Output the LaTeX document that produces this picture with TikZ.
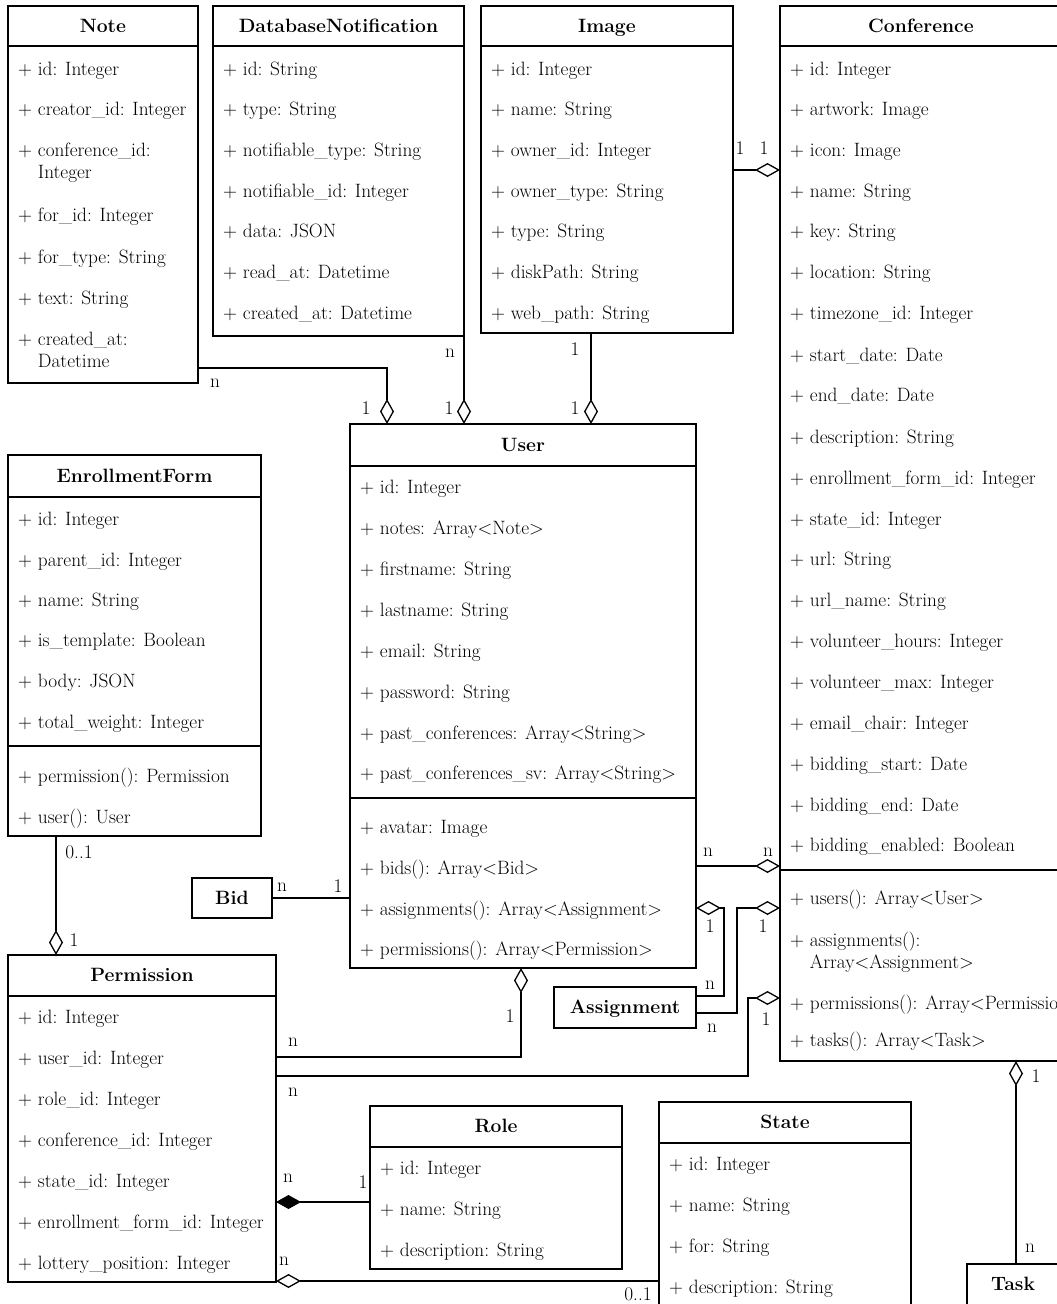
\documentclass[tikz,border=0pt]{standalone}
\usetikzlibrary{arrows.meta}

\newcommand\umlfont{\fontsize{19.3}{22}\selectfont}

\tikzset{
  box/.style={draw, line width=1.3pt, rectangle, inner sep=0pt, outer sep=0pt, anchor=north west},
  attr/.style={anchor=west, inner sep=0pt, text height=12pt, text depth=0pt, font=\umlfont},
  ttl/.style={inner sep=0pt, text height=12.9pt, text depth=0pt, font=\umlfont\bfseries},
  lbl/.style={inner sep=0pt, font=\umlfont},
  rule/.style={line width=1.3pt},
  link/.style={line width=1.3pt},
  agg/.style={line width=1.3pt, -{Diamond[open, length=25pt, width=14pt]}},
  comp/.style={line width=1.3pt, -{Diamond[length=25pt, width=14pt]}},
}

\newcommand\sepline[2]{\draw[rule] (#1.west |- 0,#2) -- (#1.east |- 0,#2);}

\begin{document}
\begin{tikzpicture}[x=1pt, y=-1pt]
\fill[white] (0,0) rectangle (1057,1304);
\useasboundingbox (0,0) rectangle (1057,1304);
\clip (0,0) rectangle (1057,1304);

% ---------- class boxes ----------
\node[box, minimum width=190, minimum height=377] (Note) at (8,6) {};
\node[box, minimum width=251, minimum height=330] (DN) at (213,6) {};
\node[box, minimum width=252, minimum height=327] (Image) at (481,6) {};
\node[box, minimum width=282, minimum height=1055] (Conference) at (780,6) {};
\node[box, minimum width=346, minimum height=544] (User) at (350,424) {};
\node[box, minimum width=253, minimum height=381] (EF) at (8,455) {};
\node[box, minimum width=80, minimum height=40] (Bid) at (192,878) {};
\node[box, minimum width=268, minimum height=327] (Permission) at (8,955) {};
\node[box, minimum width=142, minimum height=41] (Assignment) at (554,987) {};
\node[box, minimum width=252, minimum height=163] (Role) at (370,1106) {};
\node[box, minimum width=252, minimum height=230] (State) at (659,1102) {};
\node[box, minimum width=92, minimum height=60] (Task) at (967,1264) {};

% ---------- compartment rules ----------
\sepline{Note}{46}
\sepline{DN}{46}
\sepline{Image}{46}
\sepline{Conference}{46}
\sepline{Conference}{870}
\sepline{User}{466}
\sepline{User}{798}
\sepline{EF}{497}
\sepline{EF}{746}
\sepline{Permission}{996}
\sepline{Role}{1147}
\sepline{State}{1143}

% ---------- titles ----------
\node[ttl] (Note-t) at (Note.north |- 0,26) {Note};
\node[ttl] (DN-t) at (DN.north |- 0,26) {DatabaseNotification};
\node[ttl] (Image-t) at (Image.north |- 0,26) {Image};
\node[ttl] (Conference-t) at (Conference.north |- 0,26) {Conference};
\node[ttl] (User-t) at (User.north |- 0,445) {User};
\node[ttl] (EF-t) at (EF.north |- 0,476) {EnrollmentForm};
\node[ttl] (Bid-t) at (Bid.center) {Bid};
\node[ttl] (Permission-t) at (Permission.north |- 0,975) {Permission};
\node[ttl] (Assignment-t) at (Assignment.center) {Assignment};
\node[ttl] (Role-t) at (Role.north |- 0,1126) {Role};
\node[ttl] (State-t) at (State.north |- 0,1122) {State};
\node[ttl] (Task-t) at (Task.north |- 0,1284) {Task};

% ---------- members ----------
\foreach \y/\t [count=\i] in {
  69/+ id: Integer, 109/+ creator\_id: Integer, 150/+ conference\_id:,
  172/\phantom{+ }Integer, 215/+ for\_id: Integer, 257/+ for\_type: String,
  298/+ text: String, 339/+ created\_at:, 361/\phantom{+ }Datetime}
  \node[attr] (Note-\i) at (18,\y) {\t};

\foreach \y/\t [count=\i] in {
  69/+ id: String, 109/+ type: String, 150/+ notifiable\_type: String,
  191/+ notifiable\_id: Integer, 231/+ data: JSON, 272/+ read\_at: Datetime,
  313/+ created\_at: Datetime}
  \node[attr] (DN-\i) at (223,\y) {\t};

\foreach \y/\t [count=\i] in {
  69/+ id: Integer, 109/+ name: String, 150/+ owner\_id: Integer,
  191/+ owner\_type: String, 231/+ type: String, 272/+ diskPath: String,
  313/+ web\_path: String}
  \node[attr] (Image-\i) at (491,\y) {\t};

\foreach \y/\t [count=\i] in {
  69/+ id: Integer, 109/+ artwork: Image, 150/+ icon: Image, 191/+ name: String,
  231/+ key: String, 272/+ location: String, 313/+ timezone\_id: Integer,
  355/+ start\_date: Date, 395/+ end\_date: Date, 437/+ description: String,
  478/+ enrollment\_form\_id: Integer, 519/+ state\_id: Integer, 559/+ url: String,
  600/+ url\_name: String, 641/+ volunteer\_hours: Integer,
  682/+ volunteer\_max: Integer, 723/+ email\_chair: Integer,
  764/+ bidding\_start: Date, 805/+ bidding\_end: Date,
  845/+ bidding\_enabled: Boolean,
  898/+ users(): Array<User>, 940/+ assignments():,
  962/\phantom{+ }Array<Assignment>, 1003/+ permissions(): Array<Permission>,
  1040/+ tasks(): Array<Task>}
  \node[attr] (Conference-\i) at (790,\y) {\t};

\foreach \y/\t [count=\i] in {
  487/+ id: Integer, 528/+ notes: Array<Note>, 569/+ firstname: String,
  610/+ lastname: String, 651/+ email: String, 692/+ password: String,
  733/+ past\_conferences: Array<String>, 773/+ past\_conferences\_sv: Array<String>,
  827/+ avatar: Image, 868/+ bids(): Array<Bid>,
  909/+ assignments(): Array<Assignment>, 949/+ permissions(): Array<Permission>}
  \node[attr] (User-\i) at (360,\y) {\t};

\foreach \y/\t [count=\i] in {
  519/+ id: Integer, 560/+ parent\_id: Integer, 600/+ name: String,
  640/+ is\_template: Boolean, 681/+ body: JSON, 722/+ total\_weight: Integer,
  776/+ permission(): Permission, 817/+ user(): User}
  \node[attr] (EF-\i) at (18,\y) {\t};

\foreach \y/\t [count=\i] in {
  1017/+ id: Integer, 1058/+ user\_id: Integer, 1099/+ role\_id: Integer,
  1140/+ conference\_id: Integer, 1181/+ state\_id: Integer,
  1222/+ enrollment\_form\_id: Integer, 1263/+ lottery\_position: Integer}
  \node[attr] (Permission-\i) at (18,\y) {\t};

\foreach \y/\t [count=\i] in {
  1168/+ id: Integer, 1209/+ name: String, 1250/+ description: String}
  \node[attr] (Role-\i) at (380,\y) {\t};

\foreach \y/\t [count=\i] in {
  1164/+ id: Integer, 1205/+ name: String, 1246/+ for: String,
  1287/+ description: String}
  \node[attr] (State-\i) at (669,\y) {\t};

% ---------- associations ----------
% Note -- User
\draw[agg] (Note.east |- 0,368) -| (User.north -| 387,0);
\node[lbl] (l1a) at (215,383) {n};
\node[lbl] (l1b) at (366,408) {1};
% DatabaseNotification -- User
\draw[agg] (DN.south east) -- (User.north -| DN.south east);
\node[lbl] (l2a) at (450,353) {n};
\node[lbl] (l2b) at (449,408) {1};
% Image -- User
\draw[agg] (Image.south -| 591,0) -- (User.north -| 591,0);
\node[lbl] (l3a) at (575,349) {1};
\node[lbl] (l3b) at (575,408) {1};
% Image -- Conference
\draw[agg] (Image.east |- 0,170) -- (Conference.west |- 0,170);
\node[lbl] (l4a) at (740,148) {1};
\node[lbl] (l4b) at (764,148) {1};
% User -- Conference
\draw[agg] (User.east |- 0,866) -- (Conference.west |- 0,866);
\node[lbl] (l5a) at (708,852) {n};
\node[lbl] (l5b) at (768,852) {n};
% Assignment -- User
\coordinate (a1) at (724,996);
\coordinate (a2) at (724,908);
\draw[agg] (Assignment.east |- a1) -- (a1) -- (a2) -- (User.east |- a2);
\node[lbl] (l6a) at (710,926) {1};
\node[lbl] (l6b) at (710,985) {n};
% Assignment -- Conference
\coordinate (b1) at (737,1013);
\coordinate (b2) at (737,908);
\draw[agg] (Assignment.east |- b1) -- (b1) -- (b2) -- (Conference.west |- b2);
\node[lbl] (l7a) at (763,926) {1};
\node[lbl] (l7b) at (712,1028) {n};
% Permission -- Conference
\coordinate (c1) at (748,1076);
\coordinate (c2) at (748,998);
\draw[agg] (Permission.east |- c1) -- (c1) -- (c2) -- (Conference.west |- c2);
\node[lbl] (l8a) at (766,1019) {1};
\node[lbl] (l8b) at (293,1092) {n};
% Permission -- User
\draw[agg] (Permission.east |- 0,1057) -| (User.south -| 521,0);
\node[lbl] (l9a) at (510,1016) {1};
\node[lbl] (l9b) at (293,1042) {n};
% Role -- Permission
\draw[comp] (Role.west |- 0,1202) -- (Permission.east |- 0,1202);
\node[lbl] (l10a) at (288,1178) {n};
\node[lbl] (l10b) at (363,1182) {1};
% State -- Permission
\draw[agg] (State.west |- 0,1281) -- (Permission.east |- 0,1281);
\node[lbl] (l11a) at (284,1261) {n};
\node[lbl] (l11b) at (638,1294) {0..1};
% Task -- Conference
\draw[agg] (Task.north -| 1016,0) -- (Conference.south -| 1016,0);
\node[lbl] (l12a) at (1036,1076) {1};
\node[lbl] (l12b) at (1030,1248) {n};
% Bid -- User
\draw[link] (Bid.east) -- (User.west |- Bid.east);
\node[lbl] (l13a) at (282,887) {n};
\node[lbl] (l13b) at (338,886) {1};
% EnrollmentForm -- Permission
\draw[agg] (EF.south -| 56,0) -- (Permission.north -| 56,0);
\node[lbl] (l14a) at (79,852) {0..1};
\node[lbl] (l14b) at (74,940) {1};
\end{tikzpicture}
\end{document}
